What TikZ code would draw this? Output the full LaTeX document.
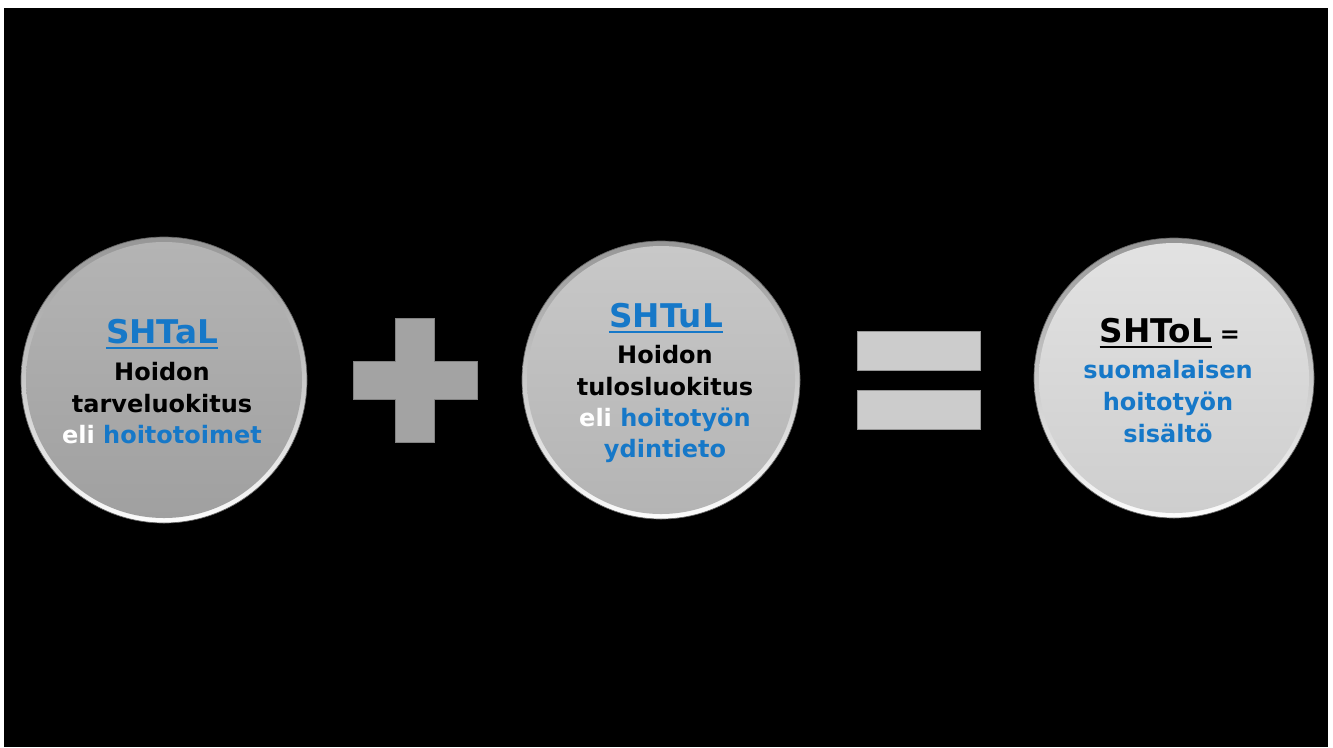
\documentclass[tikz,border=0pt]{standalone}
\usepackage{fontspec}
\setmainfont{DejaVu Sans}
\definecolor{bluetxt}{RGB}{22,120,200}
\definecolor{plusfill}{RGB}{163,163,163}
\definecolor{plusedge}{RGB}{130,130,130}
\definecolor{eqfill}{RGB}{204,204,204}
\definecolor{eqedge}{RGB}{150,150,150}
\definecolor{rimtop}{RGB}{150,150,150}
\definecolor{rimbot}{RGB}{252,252,252}
\begin{document}
\begin{tikzpicture}[x=0.75pt,y=-0.75pt,
  hd/.style={font=\bfseries\fontsize{24.5}{28}\selectfont, inner sep=0pt, anchor=base},
  bd/.style={font=\bfseries\fontsize{18}{21}\selectfont, inner sep=0pt, anchor=base},
  rim/.style={circle, inner sep=0pt, top color=rimtop, bottom color=rimbot, draw=black!60, line width=0.5pt},
  face/.style={circle, inner sep=0pt},
  ul/.style={line width=1.8pt}]
\useasboundingbox (0,0) rectangle (1333,747);
\fill[white] (0,0) rectangle (1333,747);
\fill[black] (4,8) rectangle (1328,747);
% discs
\node[rim, minimum size=286*0.75pt] (r1) at (164,380) {};
\node[face, minimum size=276*0.75pt, top color={rgb,255:red,180;green,180;blue,180}, bottom color={rgb,255:red,160;green,160;blue,160}] (c1) at (r1.center) {};
\node[rim, minimum size=278*0.75pt] (r2) at (661,380) {};
\node[face, minimum size=268*0.75pt, top color={rgb,255:red,200;green,200;blue,200}, bottom color={rgb,255:red,180;green,180;blue,180}] (c2) at (r2.center) {};
\node[rim, minimum size=280*0.75pt] (r3) at (1174,378) {};
\node[face, minimum size=270*0.75pt, top color={rgb,255:red,226;green,226;blue,226}, bottom color={rgb,255:red,206;green,206;blue,206}] (c3) at (r3.center) {};
% plus
\filldraw[fill=plusfill, draw=plusedge, line width=0.6pt]
  (395,318) -- (434,318) -- (434,361) -- (477,361) -- (477,399) -- (434,399) -- (434,442)
  -- (395,442) -- (395,399) -- (353,399) -- (353,361) -- (395,361) -- cycle;
% equals
\filldraw[fill=eqfill, draw=eqedge, line width=0.6pt] (857,331) rectangle (980,370);
\filldraw[fill=eqfill, draw=eqedge, line width=0.6pt] (857,390) rectangle (980,429);
% text circle 1
\node[hd, text=bluetxt] (t1a) at (162,343) {SHTaL};
\draw[bluetxt, ul] ([yshift=-3.9pt]t1a.base west) -- ([yshift=-3.9pt]t1a.base east);
\node[bd] (t1b) at (162,380) {Hoidon};
\node[bd] (t1c) at (162,412) {tarveluokitus};
\node[bd] (t1d) at (162,443) {\textcolor{white}{eli} \textcolor{bluetxt}{hoitotoimet}};
% text circle 2
\node[hd, text=bluetxt] (t2a) at (666,327) {SHTuL};
\draw[bluetxt, ul] ([yshift=-3.9pt]t2a.base west) -- ([yshift=-3.9pt]t2a.base east);
\node[bd] (t2b) at (665,363) {Hoidon};
\node[bd] (t2c) at (665,395) {tulosluokitus};
\node[bd] (t2d) at (665,426) {\textcolor{white}{eli} \textcolor{bluetxt}{hoitotyön}};
\node[bd, text=bluetxt] (t2e) at (665,457) {ydintieto};
% text circle 3
\node[hd] (t3a) at (1156,342) {SHToL};
\draw[black, ul] ([yshift=-3.9pt]t3a.base west) -- ([yshift=-3.9pt]t3a.base east);
\node[bd] (t3eq) at (1230,342) {=};
\node[bd, text=bluetxt] (t3b) at (1168,378) {suomalaisen};
\node[bd, text=bluetxt] (t3c) at (1168,410) {hoitotyön};
\node[bd, text=bluetxt] (t3d) at (1168,442) {sisältö};
\end{tikzpicture}
\end{document}
